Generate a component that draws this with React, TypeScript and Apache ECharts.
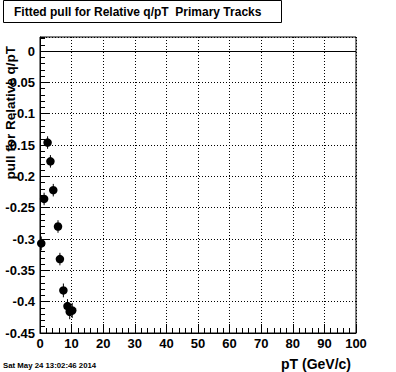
import React, { useEffect, useRef } from "react";
import * as echarts from "echarts";

const pT = [0.4, 1.3, 2.4, 3.3, 4.2, 5.7, 6.3, 7.4, 8.7, 9.4, 10.2];
const pull = [-0.307, -0.236, -0.146, -0.176, -0.222, -0.28, -0.332, -0.382, -0.407, -0.416, -0.414];
const pullErr = [0.011, 0.01, 0.01, 0.01, 0.01, 0.01, 0.01, 0.011, 0.011, 0.012, 0.012];

const titleText = "Fitted pull for Relative q/pT  Primary Tracks";
const xTitle = "pT (GeV/c)";
const yTitle = "pull for Relative q/pT";
const dateText = "Sat May 24 13:02:46 2014";

const FONT = "'Liberation Sans', Arial, Helvetica, sans-serif";

export default function App() {
  const ref = useRef<HTMLDivElement>(null);
  useEffect(() => {
    if (!ref.current) return;
    const chart = echarts.init(ref.current, null, { renderer: "svg" });
    const pts = pT.map((x, i) => [x, pull[i], pullErr[i]]);
    const dotted = { color: "#000", width: 1, type: [1, 2] as any };
    chart.setOption({
      animation: false,
      backgroundColor: "#fff",
      grid: {
        left: 40,
        right: 40,
        top: 37,
        bottom: 39,
        show: true,
        borderColor: "#000",
        borderWidth: 1,
        backgroundColor: "transparent",
      },
      xAxis: {
        type: "value",
        min: 0,
        max: 100,
        interval: 10,
        axisLine: { show: true, onZero: false, lineStyle: { color: "#000", width: 1 } },
        axisTick: { show: true, inside: true, length: 9, lineStyle: { color: "#000" } },
        minorTick: { show: true, splitNumber: 5, length: 5, lineStyle: { color: "#000" } },
        axisLabel: {
          margin: 4,
          color: "#000",
          fontFamily: FONT,
          fontWeight: "bold",
          fontSize: 13,
        },
        splitLine: { show: true, lineStyle: dotted },
      },
      yAxis: [
        {
          type: "value",
          min: -0.45,
          max: 0.0225,
          interval: 0.05,
          axisLine: { show: true, onZero: false, lineStyle: { color: "#000", width: 1 } },
          axisTick: { show: true, inside: true, length: 9, lineStyle: { color: "#000" } },
          axisLabel: {
            margin: 5,
            color: "#000",
            fontFamily: FONT,
            fontWeight: "bold",
            fontSize: 13,
            showMaxLabel: false,
            formatter: (v: number) => {
              const r = Math.round(v * 100) / 100;
              if (r === 0) return "0";
              return String(r);
            },
          },
          splitLine: { show: true, lineStyle: dotted },
        },
        {
          type: "value",
          min: -0.45,
          max: 0.0225,
          interval: 0.01,
          position: "left",
          axisLine: { show: false },
          axisTick: { show: true, inside: true, length: 5, lineStyle: { color: "#000" } },
          axisLabel: { show: false },
          splitLine: { show: false },
        },
      ],
      series: [
        {
          type: "custom",
          xAxisIndex: 0,
          yAxisIndex: 0,
          data: pts,
          renderItem: (params: any, api: any) => {
            const x = api.value(0);
            const y = api.value(1);
            const e = api.value(2);
            const p1 = api.coord([x, y + e]);
            const p2 = api.coord([x, y - e]);
            return {
              type: "line",
              shape: { x1: p1[0], y1: p1[1], x2: p2[0], y2: p2[1] },
              style: { stroke: "#000", lineWidth: 1 },
            };
          },
          z: 3,
        },
        {
          type: "scatter",
          xAxisIndex: 0,
          yAxisIndex: 0,
          data: pts.map((p) => [p[0], p[1]]),
          symbol: "circle",
          symbolSize: 8.5,
          itemStyle: { color: "#000", opacity: 1 },
          z: 4,
          markLine: {
            silent: true,
            symbol: ["none", "none"],
            label: { show: false },
            lineStyle: { color: "#000", width: 1, type: "solid" },
            data: [{ yAxis: 0 }],
          },
        },
      ],
      graphic: [
        {
          type: "rect",
          shape: { x: 3.5, y: 0.5, width: 278, height: 22 },
          style: { fill: "#fff", stroke: "#000", lineWidth: 1 },
        },
        {
          type: "text",
          x: 14,
          y: 12,
          style: {
            text: titleText,
            fill: "#000",
            font: `bold 12px ${FONT}`,
            verticalAlign: "middle",
          },
        },
        {
          type: "text",
          x: 10,
          y: 46,
          rotation: Math.PI / 2,
          style: {
            text: yTitle,
            fill: "#000",
            font: `bold 13.5px ${FONT}`,
            align: "right",
            verticalAlign: "middle",
          },
        },
        {
          type: "text",
          x: 351,
          y: 364,
          style: {
            text: xTitle,
            fill: "#000",
            font: `bold 14px ${FONT}`,
            align: "right",
            verticalAlign: "middle",
          },
        },
        {
          type: "text",
          x: 3,
          y: 365,
          style: {
            text: dateText,
            fill: "#000",
            font: `bold 7.8px ${FONT}`,
            align: "left",
            verticalAlign: "middle",
          },
        },
      ],
    });
    return () => chart.dispose();
  }, []);
  return (
    <div
      ref={ref}
      style={{ position: "absolute", left: 0, top: 0, width: 396, height: 372 }}
    />
  );
}
